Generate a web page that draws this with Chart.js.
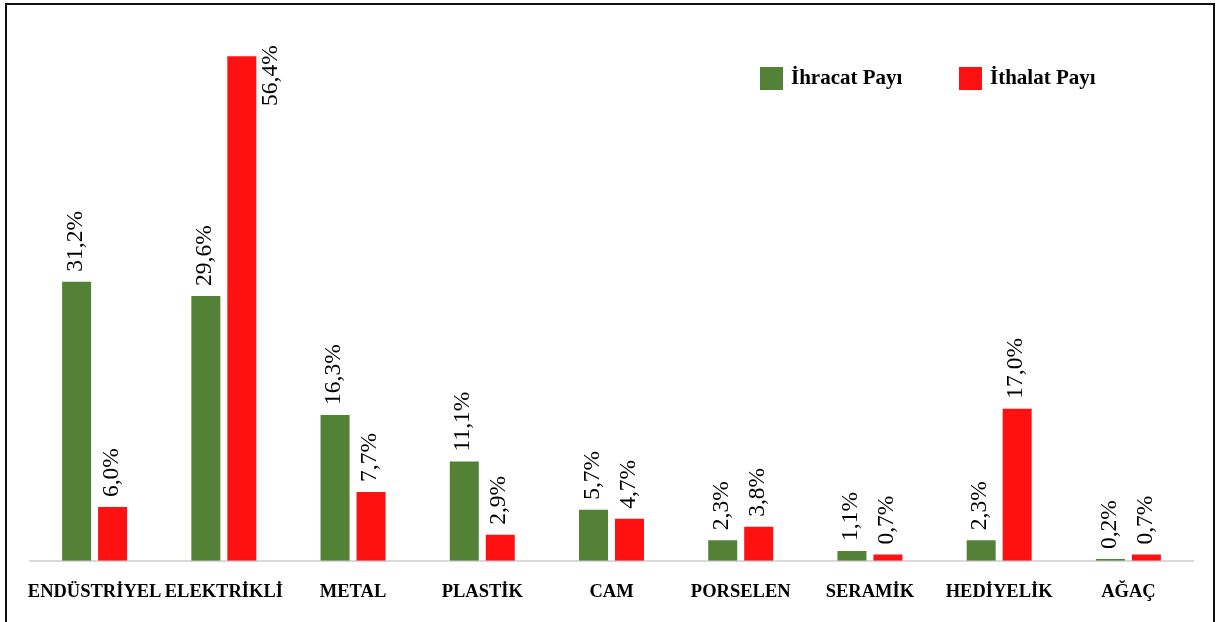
<!DOCTYPE html>
<html>
<head>
<meta charset="utf-8">
<script src="https://cdn.jsdelivr.net/npm/chart.js@4"></script>
<style>
  html, body { margin: 0; padding: 0; background: #fff; }
  #wrap { position: relative; width: 1222px; height: 622px; overflow: hidden; }
  #frame { position: absolute; left: 5px; top: 3px; width: 1210px; height: 640px; border: 2px solid #111; box-sizing: border-box; pointer-events: none; }
  canvas { position: absolute; left: 0; top: 0; }
</style>
</head>
<body>
<div id="wrap">
  <canvas id="chart" width="1222" height="622"></canvas>
  <div id="frame"></div>
</div>
<script>
// data
const categories = ['ENDÜSTRİYEL', 'ELEKTRİKLİ', 'METAL', 'PLASTİK', 'CAM', 'PORSELEN', 'SERAMİK', 'HEDİYELİK', 'AĞAÇ'];
const ihracatPayi = [31.2, 29.6, 16.3, 11.1, 5.7, 2.3, 1.1, 2.3, 0.2];
const ithalatPayi = [6.0, 56.4, 7.7, 2.9, 4.7, 3.8, 0.7, 17.0, 0.7];
const seriesNames = ['İhracat Payı', 'İthalat Payı'];
const seriesColors = ['#538135', '#FF1111'];

const serif = "'Liberation Serif', 'Times New Roman', serif";

function fmt(v) {
    return v.toFixed(1).replace('.', ',') + '%';
}

// rotated value labels above each bar
const valueLabels = {
    id: 'valueLabels',
    afterDatasetsDraw(chart) {
        const ctx = chart.ctx;
        const top = chart.chartArea.top;
        ctx.save();
        ctx.font = '23.5px ' + serif;
        ctx.fillStyle = '#000';
        chart.data.datasets.forEach((ds, di) => {
            chart.getDatasetMeta(di).data.forEach((bar, i) => {
                const txt = fmt(ds.data[i]);
                const w = ctx.measureText(txt).width;
                ctx.save();
                if (bar.y - 10 - w < top) {
                    // no room above: put it beside the bar
                    ctx.translate(bar.x + bar.width / 2 + 14, bar.y - 11);
                    ctx.rotate(-Math.PI / 2);
                    ctx.textAlign = 'right';
                } else {
                    ctx.translate(bar.x - 1, bar.y - 10);
                    ctx.rotate(-Math.PI / 2);
                    ctx.textAlign = 'left';
                }
                ctx.textBaseline = 'middle';
                ctx.fillText(txt, 0, 0);
                ctx.restore();
            });
        });
        ctx.restore();
    }
};

// legend drawn in the top right corner
const cornerLegend = {
    id: 'cornerLegend',
    afterDraw(chart) {
        const ctx = chart.ctx;
        const xs = [760, 959];
        ctx.save();
        ctx.font = 'bold 21px ' + serif;
        ctx.textBaseline = 'middle';
        chart.data.datasets.forEach((ds, i) => {
            ctx.fillStyle = ds.backgroundColor;
            ctx.fillRect(xs[i], 67, 23, 23);
            ctx.fillStyle = '#000';
            ctx.fillText(ds.label, xs[i] + 31, 79);
        });
        ctx.restore();
    }
};

new Chart(document.getElementById('chart'), {
    type: 'bar',
    data: {
        labels: categories,
        datasets: [
            { label: seriesNames[0], data: ihracatPayi, backgroundColor: seriesColors[0] },
            { label: seriesNames[1], data: ithalatPayi, backgroundColor: seriesColors[1] }
        ]
    },
    options: {
        responsive: false,
        animation: false,
        events: [],
        categoryPercentage: 0.557,
        barPercentage: 0.806,
        layout: { padding: { left: 30, right: 29, top: 24, bottom: 7 } },
        plugins: {
            legend: { display: false },
            tooltip: { enabled: false }
        },
        scales: {
            x: {
                grid: { display: false },
                border: { display: true, color: '#d9d9d9', width: 2 },
                ticks: {
                    autoSkip: false,
                    maxRotation: 0,
                    padding: 12,
                    color: '#000',
                    font: { family: serif, size: 18.5, weight: 'bold' }
                }
            },
            y: {
                display: false,
                min: 0,
                max: 60
            }
        }
    },
    plugins: [valueLabels, cornerLegend]
});
</script>
</body>
</html>
